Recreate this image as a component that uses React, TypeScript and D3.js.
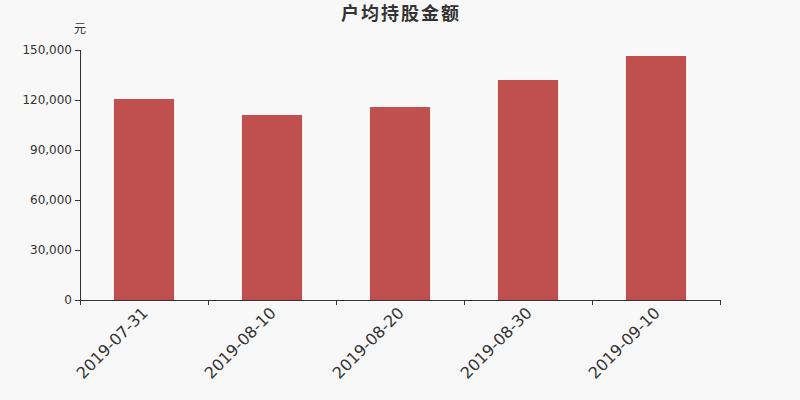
import * as d3 from 'd3';

const dates = ['2019-07-31', '2019-08-10', '2019-08-20', '2019-08-30', '2019-09-10'];
const amounts = [120600, 111000, 115800, 132000, 146400];
const yTicks = [0, 30000, 60000, 90000, 120000, 150000];

const W = 800
const H = 400
const margin = {top: 50, right: 80, bottom: 100, left: 80}

const App = () => {
    const x = d3.scaleBand<string>()
        .domain(dates)
        .range([margin.left, W - margin.right])
        .paddingInner(0.53)
        .paddingOuter(0.265)

    const y = d3.scaleLinear()
        .domain([0, 150000])
        .range([H - margin.bottom, margin.top])

    const fmt = d3.format(',')
    const font = '"DejaVu Sans", sans-serif'
    const step = (W - margin.left - margin.right) / dates.length

    return (
        <svg width={W} height={H} style={{position: 'absolute', left: 0, top: 0}}>
            <rect width={W} height={H} fill="#f8f8f8" />
            <text x={W / 2 + 1} y={20} textAnchor="middle" fontSize="18px" letterSpacing="2" fontWeight="bold" fill="#333" fontFamily='"Noto Sans CJK SC", sans-serif'>户均持股金额</text>
            <text x={margin.left} y={33} textAnchor="middle" fontSize="12px" fill="#333" fontFamily='"Noto Sans CJK SC", sans-serif'>元</text>

            {/* bars */}
            {amounts.map((v, i) => (
                <rect key={i} x={x(dates[i])} y={y(v)} width={x.bandwidth()} height={y(0) - y(v)} fill="#c0504d" />
            ))}

            {/* y axis */}
            <line x1={margin.left + 0.5} x2={margin.left + 0.5} y1={y(150000)} y2={y(0)} stroke="#333" />
            {yTicks.map(t => (
                <g key={t}>
                    <line x1={margin.left - 5} x2={margin.left} y1={Math.round(y(t)) + 0.5} y2={Math.round(y(t)) + 0.5} stroke="#333" />
                    <text x={margin.left - 8} y={y(t)} dy="0.35em" textAnchor="end" fontSize="12px" fill="#333" fontFamily={font}>{fmt(t)}</text>
                </g>
            ))}

            {/* x axis */}
            <line x1={margin.left} x2={W - margin.right} y1={y(0) + 0.5} y2={y(0) + 0.5} stroke="#333" />
            {d3.range(dates.length + 1).map(i => (
                <line key={i} x1={Math.round(margin.left + i * step) + 0.5} x2={Math.round(margin.left + i * step) + 0.5} y1={y(0)} y2={y(0) + 5} stroke="#333" />
            ))}
            {dates.map(d => {
                const cx = (x(d) ?? 0) + x.bandwidth() / 2
                return (
                    <text key={d} transform={`translate(${cx + 1},${y(0) + 10}) rotate(-45)`} textAnchor="end" dy="0.35em" fontSize="16px" fill="#333" fontFamily={font}>{d}</text>
                )
            })}
        </svg>
    )
}

export default App
